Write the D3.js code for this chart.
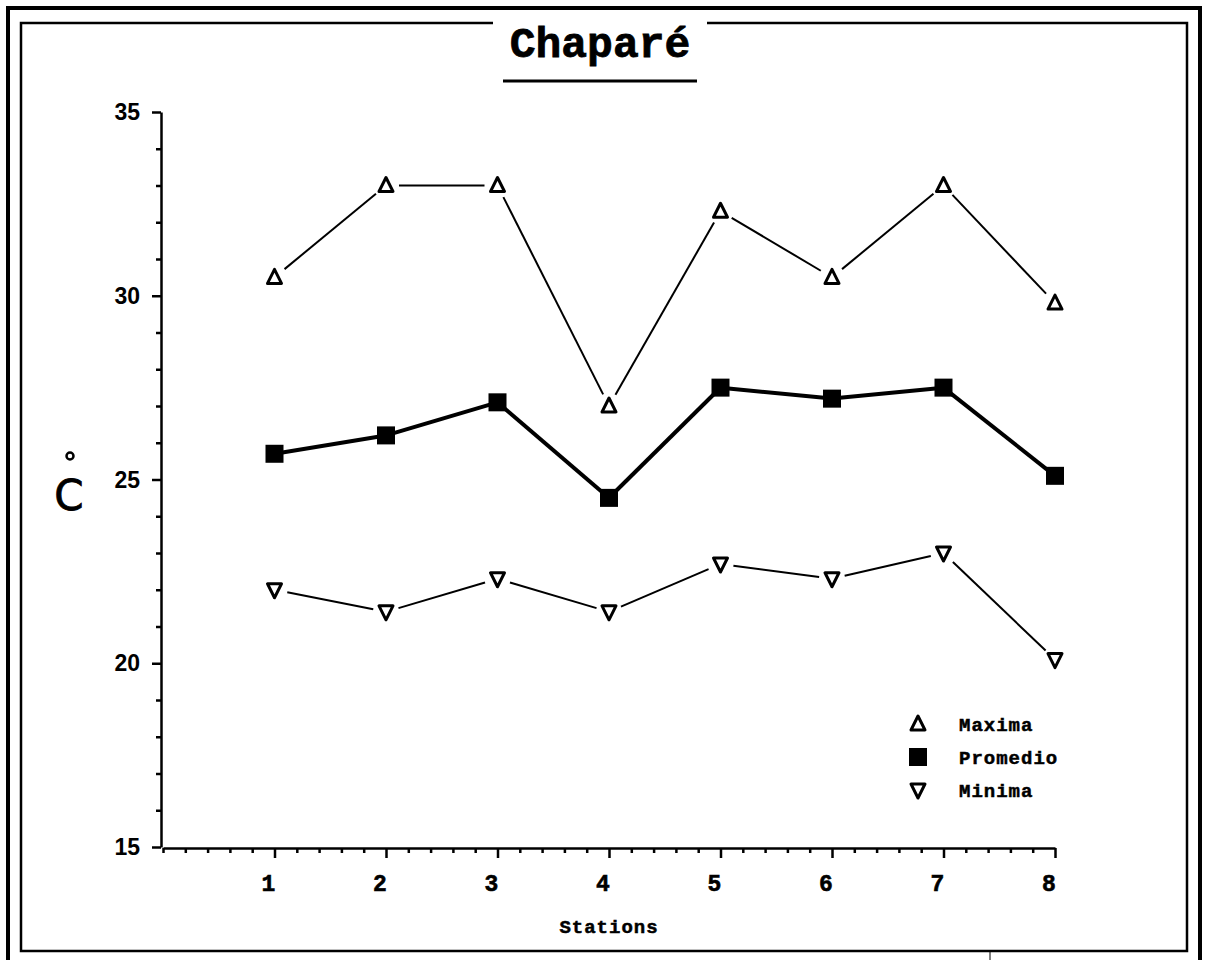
<!DOCTYPE html>
<html>
<head>
<meta charset="utf-8">
<script src="https://cdn.jsdelivr.net/npm/d3@7"></script>
<style>
  body { margin: 0; background: #fff; }
  svg { display: block; }
</style>
</head>
<body>
<div id="chart"></div>
<script>
const stations = [1, 2, 3, 4, 5, 6, 7, 8];
const maxima = [30.5, 33.0, 33.0, 27.0, 32.3, 30.5, 33.0, 29.8];
const promedio = [25.7, 26.2, 27.1, 24.5, 27.5, 27.2, 27.5, 25.1];
const minima = [22.0, 21.4, 22.3, 21.4, 22.7, 22.3, 23.0, 20.1];
const yTicks = [15, 20, 25, 30, 35];
const legendLabels = ['Maxima', 'Promedio', 'Minima'];

const width = 1206, height = 960;
const svg = d3.select('#chart').append('svg')
    .attr('width', width).attr('height', height);

// frame (double border, gap for the title)
const frame = svg.append('g').attr('fill', 'none').attr('stroke', '#000');
frame.append('path').attr('stroke-width', 4)
    .attr('d', 'M8,960 L8,8 L1200,8 L1200,960');
frame.append('path').attr('stroke-width', 2.5)
    .attr('d', 'M493,23 L21,23 L21,951 L1187,951 L1187,23 L707,23');
frame.append('line').attr('stroke-width', 1)
    .attr('x1', 990).attr('y1', 951).attr('x2', 990).attr('y2', 960);

// title
svg.append('text')
    .attr('x', 600).attr('y', 57)
    .attr('text-anchor', 'middle')
    .style('font-family', '"Liberation Mono", monospace')
    .style('font-weight', 'bold')
    .style('font-size', '43px')
    .style('stroke', '#000').style('stroke-width', 0.8)
    .text('Chaparé');
svg.append('line').attr('stroke', '#000').attr('stroke-width', 3)
    .attr('x1', 503).attr('y1', 81).attr('x2', 697).attr('y2', 81);

const xScale = d3.scaleLinear().domain([0, 8]).range([163, 1055]);
const yScale = d3.scaleLinear().domain([15, 35]).range([847, 112]);

// y axis
const yAxis = svg.append('g').attr('transform', 'translate(161,0)');
yAxis.call(d3.axisLeft(yScale).tickValues(d3.range(15, 36, 1))
    .tickSize(0).tickFormat(''));
yAxis.select('.domain').attr('stroke-width', 2.5);
yAxis.selectAll('.tick line')
    .attr('x2', (d) => (d % 5 === 0 ? -9 : -5))
    .attr('stroke-width', 2.5);
svg.append('g').selectAll('text').data(yTicks).join('text')
    .attr('x', 140).attr('y', (d) => yScale(d) + 8)
    .attr('text-anchor', 'end')
    .style('font-family', '"Liberation Sans", Arial, sans-serif')
    .style('font-weight', 'bold')
    .style('font-size', '23px')
    .text((d) => d);

// x axis
const xAxis = svg.append('g').attr('transform', 'translate(0,848)');
xAxis.call(d3.axisBottom(xScale).tickValues(d3.range(0, 8.01, 0.2))
    .tickSize(0).tickFormat(''));
xAxis.select('.domain').attr('stroke-width', 2.5);
xAxis.selectAll('.tick line')
    .attr('y2', (d) => (Math.abs(d - Math.round(d)) < 0.01 && d > 0 ? 10 : 5))
    .attr('stroke-width', 2.5);
svg.append('g').selectAll('text').data(stations).join('text')
    .attr('x', (d) => xScale(d) - 6).attr('y', 891)
    .attr('text-anchor', 'middle')
    .style('font-family', '"Liberation Mono", monospace')
    .style('font-weight', 'bold')
    .style('font-size', '23px')
    .style('stroke', '#000').style('stroke-width', 0.6)
    .text((d) => d);
svg.append('text')
    .attr('x', 609).attr('y', 933)
    .attr('text-anchor', 'middle')
    .style('font-family', '"Liberation Mono", monospace')
    .style('font-weight', 'bold')
    .style('font-size', '19px')
    .style('letter-spacing', '1px')
    .style('stroke', '#000').style('stroke-width', 0.5)
    .text('Stations');

// y label
svg.append('circle').attr('cx', 70).attr('cy', 456).attr('r', 3.5)
    .attr('fill', 'none').attr('stroke', '#000').attr('stroke-width', 2.5);
svg.append('text')
    .attr('x', 69).attr('y', 510)
    .attr('text-anchor', 'middle')
    .style('font-family', '"DejaVu Sans", sans-serif')
    .style('font-size', '42px')
    .style('stroke', '#000').style('stroke-width', 0.8)
    .text('C');

// series
function segments(values, gap) {
  const pts = values.map((v, i) => [xScale(stations[i]), yScale(v)]);
  const segs = [];
  for (let i = 0; i < pts.length - 1; i++) {
    const [x0, y0] = pts[i], [x1, y1] = pts[i + 1];
    const len = Math.hypot(x1 - x0, y1 - y0);
    const ux = (x1 - x0) / len, uy = (y1 - y0) / len;
    segs.push([x0 + ux * gap, y0 + uy * gap, x1 - ux * gap, y1 - uy * gap]);
  }
  return segs;
}

const series = [
  { name: 'Maxima', values: maxima, width: 2, gap: 13, marker: 'up' },
  { name: 'Promedio', values: promedio, width: 4, gap: 8, marker: 'square' },
  { name: 'Minima', values: minima, width: 2, gap: 13, marker: 'down' },
];

function drawMarker(g, type, x, y) {
  if (type === 'square') {
    g.append('rect').attr('x', x - 9).attr('y', y - 9)
        .attr('width', 18).attr('height', 18).attr('fill', '#000');
  } else if (type === 'up') {
    g.append('path')
        .attr('d', `M${x},${y - 8} L${x + 7},${y + 6} L${x - 7},${y + 6} Z`)
        .attr('fill', '#fff').attr('stroke', '#000').attr('stroke-width', 3)
        .attr('stroke-linejoin', 'round');
  } else {
    g.append('path')
        .attr('d', `M${x - 7},${y - 6} L${x + 7},${y - 6} L${x},${y + 8} Z`)
        .attr('fill', '#fff').attr('stroke', '#000').attr('stroke-width', 3)
        .attr('stroke-linejoin', 'round');
  }
}

series.forEach((s) => {
  const g = svg.append('g').attr('class', 'series');
  g.selectAll('line').data(segments(s.values, s.gap)).join('line')
      .attr('x1', (d) => d[0]).attr('y1', (d) => d[1])
      .attr('x2', (d) => d[2]).attr('y2', (d) => d[3])
      .attr('stroke', '#000').attr('stroke-width', s.width);
  s.values.forEach((v, i) => drawMarker(g, s.marker, xScale(stations[i]), yScale(v)));
});

// legend
const legend = svg.append('g');
legendLabels.forEach((label, i) => {
  const y = 724 + i * 33;
  drawMarker(legend, series[i].marker, 918, y);
  legend.append('text')
      .attr('x', 959).attr('y', y + 7)
      .style('font-family', '"Liberation Mono", monospace')
      .style('font-weight', 'bold')
      .style('font-size', '19px')
      .style('letter-spacing', '1px')
      .style('stroke', '#000').style('stroke-width', 0.5)
      .text(label);
});
</script>
</body>
</html>
